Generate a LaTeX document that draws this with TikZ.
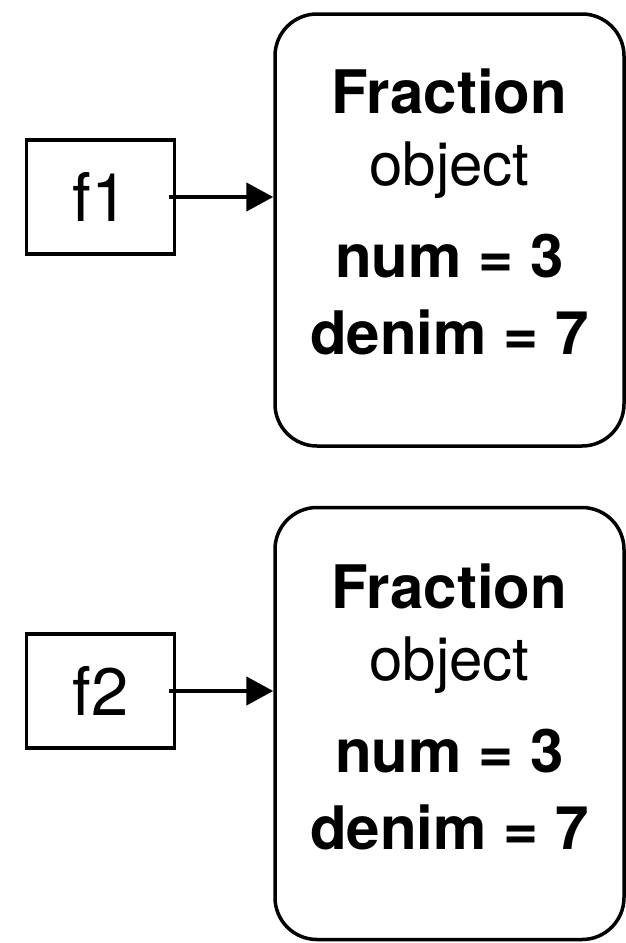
\documentclass[tikz,border=0pt]{standalone}
\usepackage{fontspec}
\setmainfont{TeX Gyre Heros}
\usetikzlibrary{arrows.meta, positioning}

\begin{document}
\begin{tikzpicture}[
    x=1pt, y=-1pt,
    objbox/.style={rectangle, rounded corners=42pt, draw, line width=3.5pt, minimum width=349pt, minimum height=432pt, inner sep=0pt},
    varbox/.style={rectangle, draw, line width=3.5pt, minimum width=148pt, minimum height=114pt, inner sep=0pt, font=\fontsize{67}{72}\selectfont},
    objtext/.style={align=center, inner sep=0pt, anchor=north, font=\fontsize{60}{76}\selectfont},
    ref/.style={-{Triangle[length=27pt, width=28pt]}, line width=4.5pt},
  ]
    \useasboundingbox (0,0) rectangle (626,943);
    \node[objbox] (obj1) at (449.5,230) {};
    \node[objbox, below=58pt of obj1] (obj2) {};
    \node[varbox] (f1) at (100.5,197) {f1};
    \node[varbox] (f2) at (100.5,691) {f2};
    \node[objtext] (txt1) at (449.5,69) {\textbf{Fraction}\\[-4pt] object\\[16pt] \textbf{num = 3}\\[1pt] \textbf{denim = 7}};
    \node[objtext] (txt2) at (449.5,564) {\textbf{Fraction}\\[-4pt] object\\[16pt] \textbf{num = 3}\\[1pt] \textbf{denim = 7}};
    \draw[ref] ([xshift=-7pt]f1.east) -- (f1.east -| obj1.west);
    \draw[ref] ([xshift=-7pt]f2.east) -- (f2.east -| obj2.west);
  \end{tikzpicture}
\end{document}
